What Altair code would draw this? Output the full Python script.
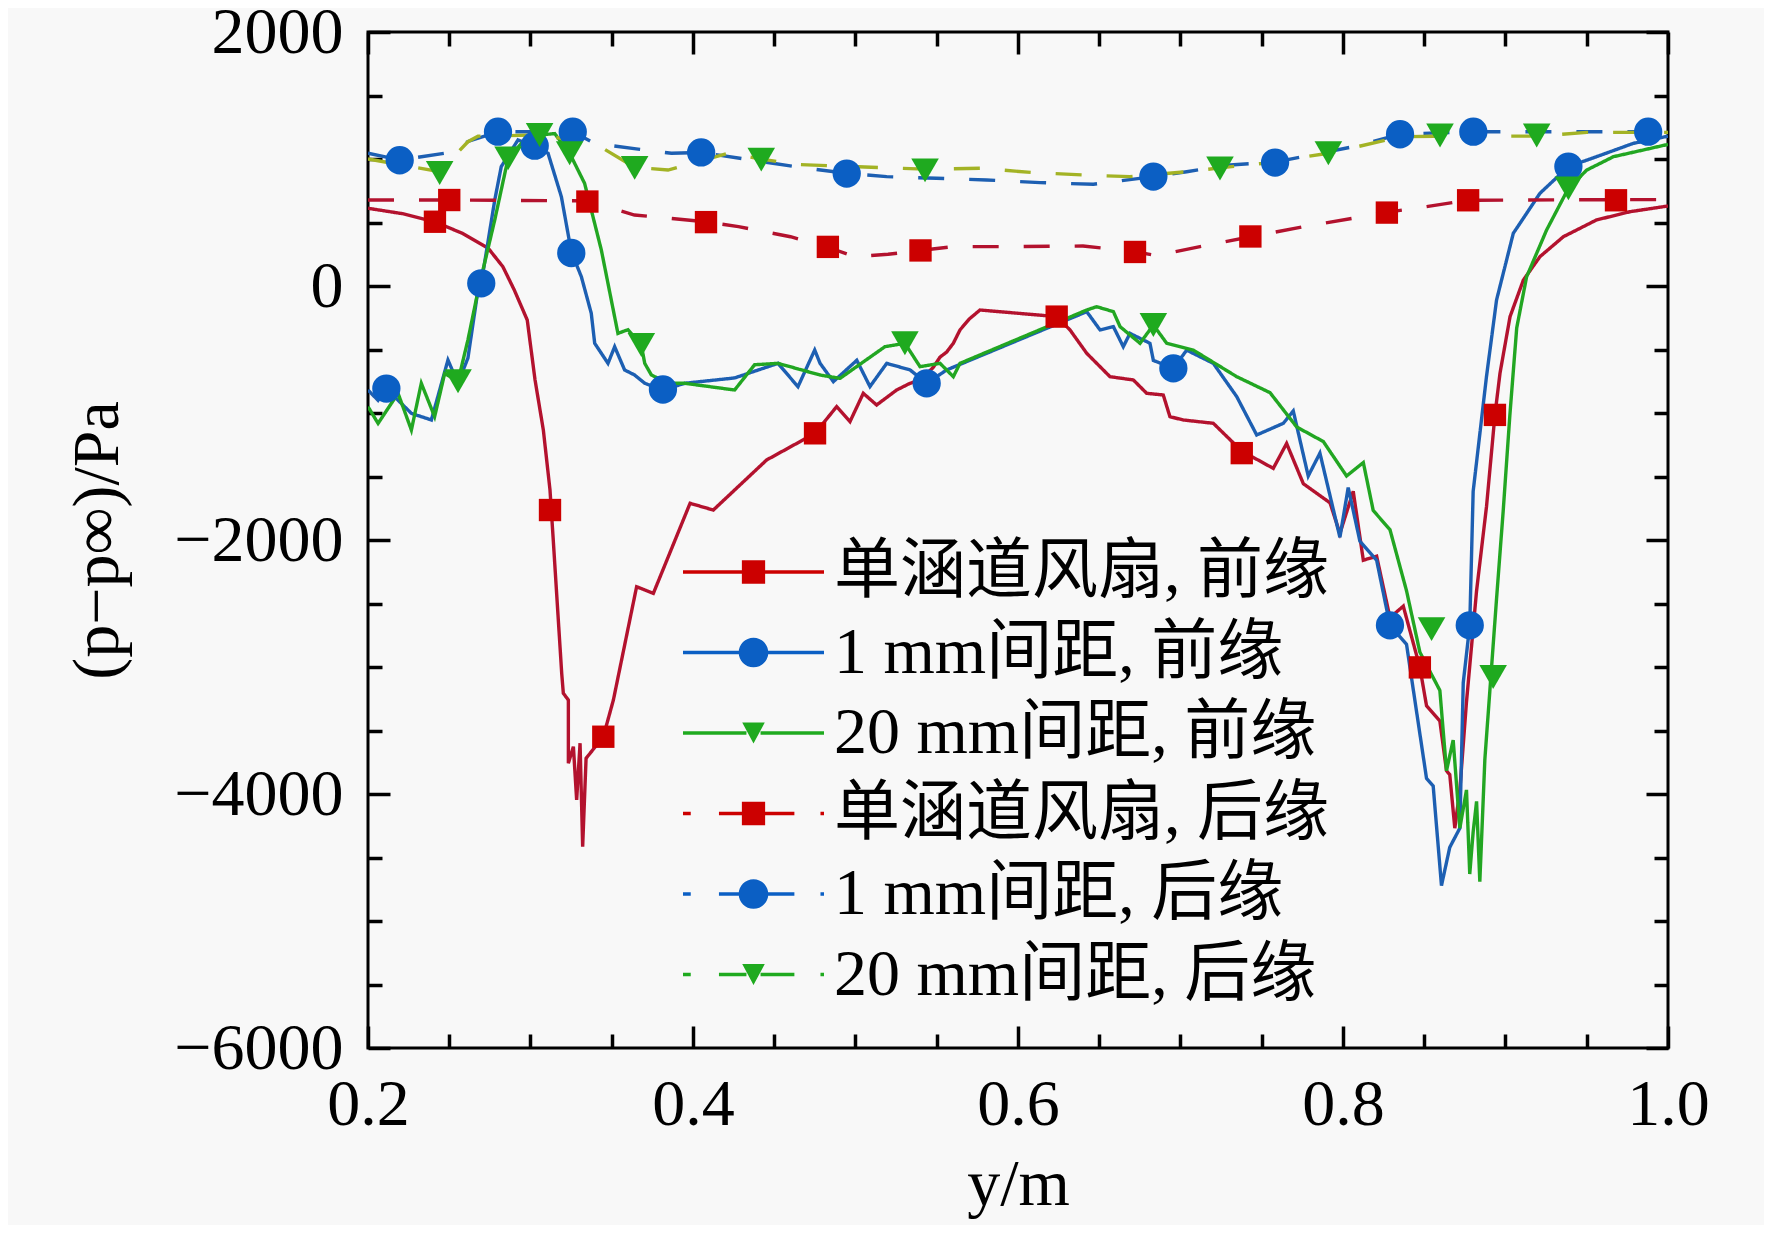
import altair as alt
import pandas as pd

NAMES = ["单涵道风扇, 前缘", "1 mm间距, 前缘", "20 mm间距, 前缘",
         "单涵道风扇, 后缘", "1 mm间距, 后缘", "20 mm间距, 后缘"]
KEYS = ["s1", "s2", "s3", "s4", "s5", "s6"]

# ---- series 1: 单涵道风扇, 前缘 (solid red) ----
s1_x = [0.200, 0.221, 0.241, 0.258, 0.274, 0.283, 0.290, 0.298, 0.3028, 0.3079,
        0.312, 0.314, 0.3192, 0.3202, 0.3233, 0.3233, 0.3264, 0.3284, 0.3305, 0.3321,
        0.3342, 0.3448, 0.351, 0.3653, 0.3756, 0.3982, 0.4125, 0.4453, 0.4751, 0.4884,
        0.4966, 0.5048, 0.513, 0.5253, 0.5336, 0.540, 0.5479, 0.552, 0.5561, 0.5602,
        0.5643, 0.5700, 0.5766, 0.6238, 0.632, 0.6423, 0.6566, 0.671, 0.6792, 0.6894,
        0.6935, 0.7017, 0.7202, 0.7377, 0.7571, 0.7653, 0.7756, 0.792, 0.7981, 0.8063,
        0.8125, 0.8207, 0.8289, 0.8371, 0.8473, 0.8514, 0.8596, 0.8637, 0.8657, 0.8688,
        0.8719, 0.876, 0.8822, 0.8883, 0.8935, 0.8966, 0.9028, 0.911, 0.9212, 0.9356,
        0.956, 0.9766, 1.0]
s1_y = [612, 570, 506, 415, 297, 152, -31, -268, -740, -1134,
        -1606, -2000, -3050, -3207, -3260, -3758, -3627, -4047, -3600, -4415,
        -3719, -3549, -3260, -2368, -2420, -1711, -1764, -1370, -1160, -950,
        -1068, -845, -937, -819, -766, -740, -640, -560, -520, -451,
        -346, -260, -189, -241, -346, -530, -714, -740, -845, -858,
        -1029, -1055, -1081, -1300, -1436, -1240, -1557, -1707, -1948, -1617,
        -2159, -2128, -2611, -2521, -3003, -3305, -3425, -3817, -3847, -4269,
        -3968, -3274, -2400, -1738, -1015, -688, -241, 47, 231, 388,
        520, 585, 630]
s1_mx = [0.2412, 0.312, 0.3448, 0.4751, 0.6238, 0.7377, 0.8473, 0.8935]
s1_my = [506, -1764, -3549, -1160, -241, -1316, -3003, -1015]

# ---- series 2: 1 mm间距, 前缘 (solid blue) ----
s2_x = [0.200, 0.2062, 0.2113, 0.2267, 0.2390, 0.2492, 0.2554, 0.2615, 0.2677, 0.2697,
        0.2780, 0.2820, 0.2923, 0.3026, 0.3108, 0.3190, 0.3251, 0.3313, 0.3374, 0.3395,
        0.3477, 0.3518, 0.3579, 0.3641, 0.3703, 0.3815, 0.3949, 0.4256, 0.4523, 0.4646,
        0.4749, 0.4782, 0.4864, 0.5008, 0.5089, 0.5192, 0.5336, 0.5438, 0.5561, 0.6423,
        0.6505, 0.6587, 0.6648, 0.6689, 0.6812, 0.6833, 0.6956, 0.7038, 0.7202, 0.7346,
        0.7469, 0.7633, 0.7694, 0.7786, 0.7858, 0.7981, 0.8032, 0.8104, 0.8207, 0.8289,
        0.8391, 0.8514, 0.8555, 0.8606, 0.8657, 0.8719, 0.8740, 0.8780, 0.8801, 0.8842,
        0.8883, 0.8945, 0.9048, 0.9130, 0.9212, 0.9387, 0.9560, 0.9786, 1.0]
s2_y = [-819, -900, -808, -1003, -1055, -583, -766, -567, -31, 21,
        677, 940, 1150, 1097, 1045, 703, 270, 73, -215, -451,
        -609, -478, -661, -701, -766, -819, -766, -724, -609, -793,
        -504, -609, -753, -585, -792, -609, -661, -766, -661, -202,
        -346, -320, -478, -373, -451, -586, -648, -505, -609, -871,
        -1173, -1081, -984, -1496, -1316, -1979, -1587, -2009, -2159, -2672,
        -2822, -3877, -3937, -4721, -4420, -4269, -3124, -2672, -1617, -1165,
        -713, -110, 415, 572, 730, 940, 1018, 1123, 1180]
s2_mx = [0.2113, 0.2697, 0.3026, 0.3251, 0.3815, 0.5438, 0.6956, 0.8289, 0.8780, 0.9387]
s2_my = [-808, 21, 1105, 260, -815, -766, -648, -2672, -2672, 940]

# ---- series 3: 20 mm间距, 前缘 (solid green) ----
s3_x = [0.200, 0.2062, 0.2185, 0.2267, 0.2328, 0.2410, 0.2472, 0.2554, 0.2615, 0.2677,
        0.2780, 0.2862, 0.2944, 0.3056, 0.3149, 0.3241, 0.3333, 0.3436, 0.3538, 0.3600,
        0.3682, 0.3703, 0.3744, 0.3846, 0.3949, 0.4256, 0.4379, 0.4523, 0.4782, 0.4905,
        0.5181, 0.5304, 0.5397, 0.5520, 0.5602, 0.5643, 0.6423, 0.6484, 0.6587, 0.6628,
        0.6751, 0.6833, 0.6915, 0.7079, 0.7346, 0.7551, 0.7715, 0.7879, 0.8022, 0.8125,
        0.8186, 0.8289, 0.8391, 0.8473, 0.8596, 0.8637, 0.8678, 0.8719, 0.8760, 0.8780,
        0.8801, 0.8822, 0.8842, 0.8873, 0.8945, 0.8986, 0.9027, 0.9069, 0.9130, 0.9253,
        0.9387, 0.9500, 0.9664, 1.0]
s3_y = [-950, -1082, -845, -1134, -766, -1029, -688, -750, -424, -39,
        520, 1005, 1123, 1189, 1200, 1045, 808, 283, -373, -344,
        -465, -609, -701, -766, -766, -819, -620, -609, -701, -727,
        -478, -451, -635, -609, -714, -609, -189, -163, -202, -320,
        -451, -307, -451, -505, -714, -840, -1110, -1225, -1496, -1390,
        -1768, -1918, -2400, -2883, -3184, -3817, -3575, -4269, -3968, -4630,
        -4299, -4058, -4690, -3727, -2461, -1768, -1014, -330, 73, 441,
        769, 913, 1018, 1115]
s3_mx = [0.2554, 0.2862, 0.3241, 0.3682, 0.5304, 0.6833, 0.8545, 0.8924, 0.9387]
s3_my = [-750, 1005, 1045, -465, -451, -307, -2702, -3079, 769]

# ---- series 4: 单涵道风扇, 后缘 (dashed red) ----
s4_x = [0.200, 0.250, 0.335, 0.364, 0.408, 0.428, 0.460, 0.483, 0.500, 0.520,
        0.540, 0.560, 0.600, 0.640, 0.672, 0.685, 0.712, 0.743, 0.776, 0.806,
        0.827, 0.846, 0.877, 0.968, 1.0]
s4_y = [677, 677, 670, 559, 506, 467, 388, 305, 230, 250,
        280, 310, 310, 315, 270, 240, 310, 388, 467, 533,
        580, 615, 675, 680, 680]
s4_mx = [0.250, 0.335, 0.408, 0.483, 0.540, 0.672, 0.743, 0.827, 0.877, 0.968]
s4_my = [677, 665, 503, 308, 280, 268, 390, 578, 675, 675]

# ---- series 5: 1 mm间距, 后缘 (dashed blue) ----
s5_x = [0.200, 0.2195, 0.2472, 0.262, 0.280, 0.303, 0.326, 0.3395, 0.365, 0.3867,
        0.405, 0.4626, 0.4946, 0.5192, 0.5499, 0.5807, 0.6136, 0.6464, 0.6833, 0.7038,
        0.7305, 0.7582, 0.7800, 0.8064, 0.8351, 0.8802, 0.9300, 0.9878, 1.0]
s5_y = [1045, 992, 1045, 1140, 1215, 1215, 1215, 1123, 1080, 1045,
        1052, 940, 887, 861, 848, 835, 814, 801, 861, 900,
        953, 975, 1030, 1097, 1195, 1215, 1215, 1215, 1215]
s5_mx = [0.2195, 0.280, 0.326, 0.405, 0.4946, 0.6833, 0.7582, 0.8351, 0.8802, 0.9878]
s5_my = [990, 1215, 1215, 1052, 885, 862, 972, 1195, 1215, 1215]

# ---- series 6: 20 mm间距, 后缘 (dashed green) ----
s6_x = [0.200, 0.2441, 0.2615, 0.2677, 0.3056, 0.3395, 0.3641, 0.3846, 0.4215, 0.4420,
        0.4626, 0.4782, 0.5428, 0.5766, 0.6094, 0.6402, 0.6689, 0.7038, 0.7243, 0.7500,
        0.7910, 0.8100, 0.8350, 0.8597, 0.9192, 0.9500, 1.0]
s6_y = [1000, 900, 1136, 1180, 1189, 1123, 935, 913, 1045, 1000,
        958, 950, 920, 927, 893, 874, 861, 900, 930, 965,
        1045, 1100, 1175, 1180, 1180, 1210, 1210]
s6_mx = [0.2441, 0.3056, 0.3641, 0.4420, 0.5428, 0.7243, 0.7910, 0.8597, 0.9192]
s6_my = [890, 1189, 930, 995, 910, 925, 1045, 1185, 1185]

X_TICKS = [0.2, 0.25, 0.3, 0.35, 0.4, 0.45, 0.5, 0.55, 0.6, 0.65, 0.7, 0.75,
           0.8, 0.85, 0.9, 0.95, 1.0]
X_LABELS = [0.2, 0.4, 0.6, 0.8, 1.0]
Y_TICKS = [-6000, -5500, -5000, -4500, -4000, -3500, -3000, -2500, -2000, -1500,
           -1000, -500, 0, 500, 1000, 1500, 2000]
Y_LABELS = [-6000, -4000, -2000, 0, 2000]

# ---- build tables ----
lines_src = [(s1_x, s1_y), (s2_x, s2_y), (s3_x, s3_y), (s4_x, s4_y), (s5_x, s5_y), (s6_x, s6_y)]
marks_src = [(s1_mx, s1_my), (s2_mx, s2_my), (s3_mx, s3_my), (s4_mx, s4_my), (s5_mx, s5_my), (s6_mx, s6_my)]
rows = []
for key, name, (xs, ys) in zip(KEYS, NAMES, lines_src):
    for i, (xv, yv) in enumerate(zip(xs, ys)):
        rows.append({"key": key, "series": name, "x": xv, "y": yv, "i": i})
ln_df = pd.DataFrame(rows)
rows = []
for key, name, (xs, ys) in zip(KEYS, NAMES, marks_src):
    for xv, yv in zip(xs, ys):
        rows.append({"key": key, "series": name, "x": xv, "y": yv})
mk_df = pd.DataFrame(rows)

# ---- styles ----
W, H = 1300, 1016
FONT = "Liberation Serif, Times New Roman, Noto Sans CJK SC"
FS = 66
line_colors = ["#b3122e", "#1d5fb2", "#22a622", "#b3122e", "#1d5fb2", "#a3b325"]
marker_colors = ["#cc0000", "#0b5fc4", "#1faa1f", "#cc0000", "#0b5fc4", "#1faa1f"]
dashes = [[1, 0], [1, 0], [1, 0], [26, 25], [26, 25], [26, 25]]

T = "0.024"
def seg(a, b):
    return f"M{a},-{T}H{b}V{T}H{a}Z"
SQ = "M-0.165,-0.165H0.165V0.165H-0.165Z"
CI = "M-0.21,0A0.21,0.21,0,1,1,0.21,0A0.21,0.21,0,1,1,-0.21,0Z"
TR = "M-0.16,-0.15L0.16,-0.15L0,0.15Z"
solid = seg(-1, -0.1) + seg(0.1, 1)
dashed = seg(-1, -0.89) + seg(-0.49, -0.1) + seg(0.1, 0.58) + seg(0.95, 1)
shape_paths = [solid + SQ, solid + CI, solid + TR, dashed + SQ, dashed + CI, dashed + TR]

xscale = alt.Scale(domain=[0.2, 1.0], nice=False, zero=False)
yscale = alt.Scale(domain=[-6000, 2000], nice=False, zero=False)
stroke_scale = alt.Scale(domain=KEYS, range=line_colors)
dash_scale = alt.Scale(domain=KEYS, range=dashes)
fill_scale = alt.Scale(domain=KEYS, range=marker_colors)
color_scale = alt.Scale(domain=NAMES, range=marker_colors)
shape_scale = alt.Scale(domain=NAMES, range=shape_paths)

main_x = alt.Axis(values=X_LABELS, format=".1f", ticks=False, domain=False, grid=False,
                  labelFont=FONT, labelFontSize=FS, labelColor="black", labelPadding=24,
                  labelFlush=False, labelOverlap=False,
                  title="y/m", titleFont=FONT, titleFontSize=FS, titleFontWeight="normal",
                  titleColor="black", titlePadding=15)
main_y = alt.Axis(values=Y_LABELS, format="d", ticks=False, domain=False, grid=False,
                  labelFont=FONT, labelFontSize=FS, labelColor="black", labelPadding=25,
                  labelFlush=False, labelOverlap=False,
                  title="(p−p∞)/Pa", titleFont=FONT, titleFontSize=FS, titleFontWeight="normal",
                  titleColor="black", titlePadding=42)

xmaj = "abs(datum.value*5 - round(datum.value*5)) < 0.01"
ymaj = "abs(datum.value % 2000) < 1"
def tick_axis(orient, offset, vals, test):
    return alt.Axis(orient=orient, offset=offset, values=vals, labels=False, domain=False,
                    grid=False, title=None, ticks=True, tickColor="black", tickWidth=3.5,
                    tickSize={"condition": {"test": test, "value": 22}, "value": 14})

lines = alt.Chart(ln_df).mark_line(strokeWidth=3.4, clip=True).encode(
    x=alt.X("x:Q", scale=xscale, axis=main_x),
    y=alt.Y("y:Q", scale=yscale, axis=main_y),
    stroke=alt.Stroke("key:N", scale=stroke_scale, legend=None),
    strokeDash=alt.StrokeDash("key:N", scale=dash_scale, legend=None),
    order=alt.Order("i:Q"),
)

def marker_layer(shape, size, keys, xaxis, yaxis):
    return alt.Chart(mk_df).transform_filter(
        alt.FieldOneOfPredicate(field="key", oneOf=keys)
    ).mark_point(filled=True, shape=shape, size=size, opacity=1, strokeWidth=0).encode(
        x=alt.X("x:Q", scale=xscale, axis=xaxis),
        y=alt.Y("y:Q", scale=yscale, axis=yaxis),
        fill=alt.Fill("key:N", scale=fill_scale, legend=None),
    )

sq = marker_layer("square", 500, [KEYS[0], KEYS[3]],
                  tick_axis("top", -H, X_TICKS, xmaj), tick_axis("right", -W, Y_TICKS, ymaj))
ci = marker_layer("circle", 800, [KEYS[1], KEYS[4]],
                  tick_axis("bottom", -H, X_TICKS, xmaj), tick_axis("left", -W, Y_TICKS, ymaj))
tr = marker_layer("triangle-down", 760, [KEYS[2], KEYS[5]], None, None)

leg = alt.Legend(title=None, orient="none", legendX=315, legendY=507, symbolSize=19881,
                 labelFont=FONT, labelFontSize=FS, labelColor="black", labelLimit=3000,
                 labelOffset=10, rowPadding=14.5, clipHeight=66, padding=0,
                 symbolStrokeWidth=0, direction="vertical")
legend_layer = alt.Chart(mk_df).transform_filter("false").mark_point(filled=True, opacity=1).encode(
    x=alt.X("x:Q", scale=xscale, axis=None),
    y=alt.Y("y:Q", scale=yscale, axis=None),
    color=alt.Color("series:N", scale=color_scale, legend=leg),
    shape=alt.Shape("series:N", scale=shape_scale, legend=leg),
)

chart = alt.layer(lines, sq, ci, tr, legend_layer).resolve_axis(
    x="independent", y="independent"
).properties(
    width=W, height=H,
    autosize=alt.AutoSizeParams(type="none"),
    padding={"left": 360, "top": 24, "right": 96, "bottom": 177},
    background="#f8f8f8",
).configure_view(stroke="black", strokeWidth=3)

chart.save("out.html", embed_options={"renderer": "svg", "actions": False})
